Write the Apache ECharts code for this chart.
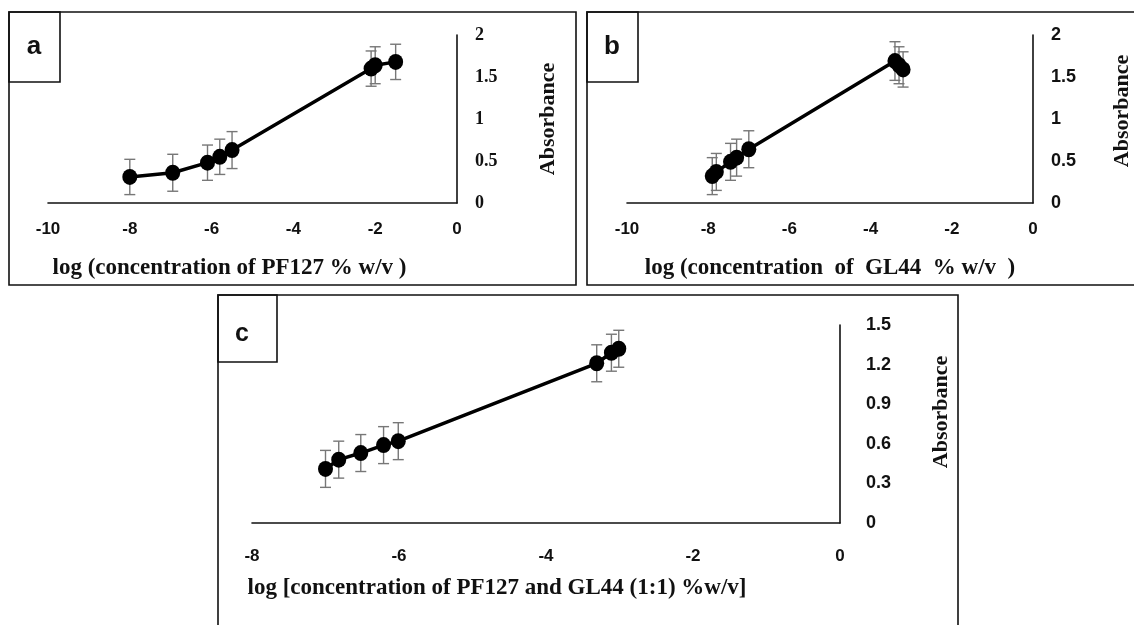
<!DOCTYPE html>
<html><head><meta charset="utf-8">
<script src="https://cdn.jsdelivr.net/npm/echarts@6/dist/echarts.min.js"></script>
<style>html,body{margin:0;padding:0;background:#fff}#c{width:1134px;height:625px}</style>
</head><body><div id="c"></div>
<script>
// Panel a: PF127
const xA = [-8.0, -6.95, -6.1, -5.8, -5.5, -2.1, -2.0, -1.5];
const yA = [0.31, 0.36, 0.48, 0.55, 0.63, 1.60, 1.64, 1.68];
const eA = [0.21, 0.22, 0.21, 0.21, 0.22, 0.21, 0.22, 0.21];
// Panel b: GL44
const xB = [-7.9, -7.8, -7.45, -7.3, -7.0, -3.4, -3.3, -3.2];
const yB = [0.32, 0.37, 0.49, 0.54, 0.64, 1.69, 1.64, 1.59];
const eB = [0.22, 0.22, 0.22, 0.22, 0.22, 0.23, 0.22, 0.21];
// Panel c: PF127 + GL44 (1:1)
const xC = [-7.0, -6.82, -6.52, -6.21, -6.01, -3.31, -3.11, -3.01];
const yC = [0.41, 0.48, 0.53, 0.59, 0.62, 1.21, 1.29, 1.32];
const eC = [0.14, 0.14, 0.14, 0.14, 0.14, 0.14, 0.14, 0.14];

const titles = ['log (concentration of PF127 % w/v )',
                'log (concentration  of  GL44  % w/v  )',
                'log [concentration of PF127 and GL44 (1:1) %w/v]'];
const panelLabels = ['a', 'b', 'c'];

const serif = '"Liberation Serif","Times New Roman",serif';
const sans = '"Liberation Sans",Arial,sans-serif';

function pts(xs, ys) { return xs.map((x, i) => [x, ys[i]]); }
function errs(xs, ys, es) { return xs.map((x, i) => [x, ys[i] - es[i], ys[i] + es[i]]); }

function errRender(params, api) {
  const x = api.value(0), lo = api.value(1), hi = api.value(2);
  const p1 = api.coord([x, hi]), p2 = api.coord([x, lo]);
  const w = 5.5;
  const st = { stroke: '#777', lineWidth: 1.4 };
  return { type: 'group', children: [
    { type: 'line', shape: { x1: p1[0], y1: p1[1], x2: p2[0], y2: p2[1] }, style: st },
    { type: 'line', shape: { x1: p1[0] - w, y1: p1[1], x2: p1[0] + w, y2: p1[1] }, style: st },
    { type: 'line', shape: { x1: p2[0] - w, y1: p2[1], x2: p2[0] + w, y2: p2[1] }, style: st }
  ]};
}

const grids = [
  { left: 48, top: 35, width: 409, height: 168 },
  { left: 627, top: 35, width: 413, height: 168 },
  { left: 252, top: 325, width: 588, height: 198 }
];
const xRanges = [[-10, 0, 2], [-10, 0, 2], [-8, 0, 2]];
const yRanges = [[0, 2, 0.5], [0, 2, 0.5], [0, 1.5, 0.3]];
const yFonts = [serif, sans, sans];
const yNameGap = [80, 78, 90];
const yNamePad = [[0, 0, 0, 0], [0, 0, 0, 16], [0, 0, 0, 24]];
const xNamePad = [[0, 46, 0, 0], [0, 0, 0, 0], [0, 98, 0, 0]];
const xLabMargin = [18, 18, 25];
const yLabMargin = [18, 18, 26];
const xNameGap = [54, 54, 54];

const xAxis = [], yAxis = [], series = [];
const datasets = [[xA, yA, eA], [xB, yB, eB], [xC, yC, eC]];
for (let i = 0; i < 3; i++) {
  xAxis.push({
    type: 'value', gridIndex: i, min: xRanges[i][0], max: xRanges[i][1], interval: xRanges[i][2],
    splitLine: { show: false }, axisTick: { show: false },
    axisLine: { show: true, onZero: false, lineStyle: { color: '#111', width: 1.6 } },
    axisLabel: { color: '#111', fontFamily: sans, fontWeight: 'bold', fontSize: 17, margin: xLabMargin[i] },
    name: titles[i], nameLocation: 'middle', nameGap: xNameGap[i],
    nameTextStyle: { color: '#111', fontFamily: serif, fontWeight: 'bold', fontSize: 23, padding: xNamePad[i] }
  });
  yAxis.push({
    type: 'value', gridIndex: i, position: 'right', min: yRanges[i][0], max: yRanges[i][1], interval: yRanges[i][2],
    splitLine: { show: false }, axisTick: { show: false },
    axisLine: { show: true, onZero: false, lineStyle: { color: '#111', width: 1.6 } },
    axisLabel: { color: '#111', fontFamily: yFonts[i], fontWeight: 'bold', fontSize: 18, margin: yLabMargin[i] },
    name: 'Absorbance', nameLocation: 'middle', nameRotate: 90, nameGap: yNameGap[i],
    nameTextStyle: { color: '#111', fontFamily: serif, fontWeight: 'bold', fontSize: 22, padding: yNamePad[i] }
  });
  const [xs, ys, es] = datasets[i];
  series.push({
    type: 'custom', xAxisIndex: i, yAxisIndex: i, renderItem: errRender,
    data: errs(xs, ys, es), z: 1, silent: true
  });
  series.push({
    type: 'line', xAxisIndex: i, yAxisIndex: i, data: pts(xs, ys),
    symbol: 'circle', symbolSize: [15, 16], z: 2,
    lineStyle: { color: '#000', width: 3.5 }, itemStyle: { color: '#000' }, animation: false
  });
}

const boxStyle = { fill: 'none', stroke: '#111', lineWidth: 1.6 };
const graphic = [
  { type: 'rect', shape: { x: 9, y: 12, width: 567, height: 273 }, style: boxStyle, z: 100 },
  { type: 'rect', shape: { x: 587, y: 12, width: 560, height: 273 }, style: boxStyle, z: 100 },
  { type: 'rect', shape: { x: 218, y: 295, width: 740, height: 350 }, style: boxStyle, z: 100 },
  { type: 'rect', shape: { x: 9, y: 12, width: 51, height: 70 }, style: boxStyle, z: 100 },
  { type: 'rect', shape: { x: 587, y: 12, width: 51, height: 70 }, style: boxStyle, z: 100 },
  { type: 'rect', shape: { x: 218, y: 295, width: 59, height: 67 }, style: boxStyle, z: 100 },
  { type: 'text', x: 34, y: 47, style: { text: panelLabels[0], font: 'bold 26px ' + sans, fill: '#111', align: 'center', verticalAlign: 'middle' }, z: 100 },
  { type: 'text', x: 612, y: 47, style: { text: panelLabels[1], font: 'bold 26px ' + sans, fill: '#111', align: 'center', verticalAlign: 'middle' }, z: 100 },
  { type: 'text', x: 242, y: 334, style: { text: panelLabels[2], font: 'bold 25px ' + sans, fill: '#111', align: 'center', verticalAlign: 'middle' }, z: 100 }
];

const chart = echarts.init(document.getElementById('c'), null, { renderer: 'canvas' });
chart.setOption({
  animation: false,
  backgroundColor: '#fff',
  grid: grids,
  xAxis, yAxis, series, graphic
});
</script></body></html>
